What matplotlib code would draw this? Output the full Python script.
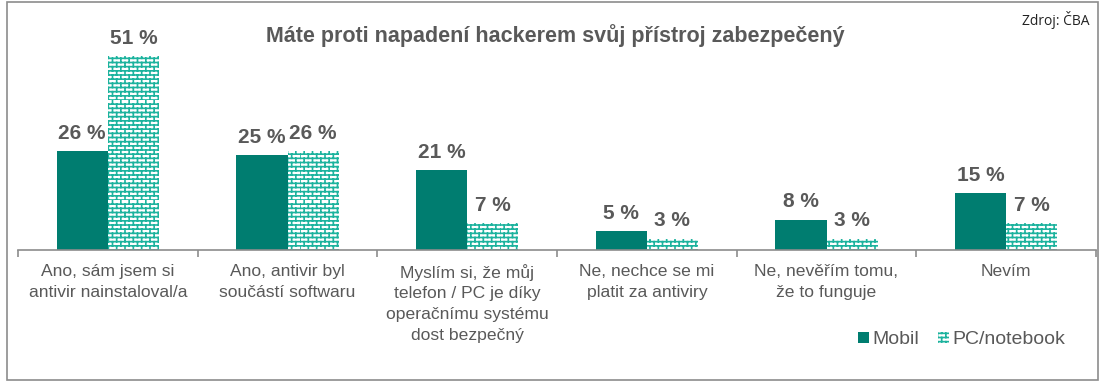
import warnings
import numpy as np
import matplotlib
matplotlib.use("Agg")
from matplotlib import pyplot as plt
from matplotlib import hatch as mhatch
from matplotlib.path import Path
from matplotlib.patches import Rectangle, Patch

warnings.filterwarnings("ignore")

# data
categories = [
    "Ano, sám jsem si\nantivir nainstaloval/a",
    "Ano, antivir byl\nsoučástí softwaru",
    "Myslím si, že můj\ntelefon / PC je díky\noperačnímu systému\ndost bezpečný",
    "Ne, nechce se mi\nplatit za antiviry",
    "Ne, nevěřím tomu,\nže to funguje",
    "Nevím",
]
mobil = [26, 25, 21, 5, 8, 15]
pc = [51, 26, 7, 3, 3, 7]
series_names = ["Mobil", "PC/notebook"]
title = "Máte proti napadení hackerem svůj přístroj zabezpečený"
source = "Zdroj: ČBA"


# cihlovy srafovaci vzor ('b')
class BrickHatch(mhatch.HatchPatternBase):
    def __init__(self, hatch, density):
        self.rows = 24 if "b" in hatch else 0
        self.cols = 12
        self.num_vertices = self.rows * 2 + self.rows * self.cols * 2

    def set_vertices_and_codes(self, vertices, codes):
        h = 1.0 / self.rows
        w = 1.0 / self.cols
        i = 0
        for r in range(self.rows):
            y = r * h
            vertices[i] = (0.0, y)
            vertices[i + 1] = (1.0, y)
            codes[i] = Path.MOVETO
            codes[i + 1] = Path.LINETO
            i += 2
        for r in range(self.rows):
            off = 0.0 if r % 2 == 0 else w / 2
            for c in range(self.cols):
                x = c * w + off
                vertices[i] = (x, r * h)
                vertices[i + 1] = (x, (r + 1) * h)
                codes[i] = Path.MOVETO
                codes[i + 1] = Path.LINETO
                i += 2


mhatch._hatch_types.append(BrickHatch)

plt.rcParams["font.family"] = ["Liberation Sans", "DejaVu Sans"]
plt.rcParams["hatch.linewidth"] = 1.2

dark = "#007D70"
light = "#1DB39E"
gray = "#595959"

W, H = 1105, 386
fig = plt.figure(figsize=(W / 100, H / 100), dpi=100)
ax = fig.add_axes([18 / W, (H - 250) / H, (1096 - 18) / W, 214 / H])

x = np.arange(len(categories))
bw = 0.285
b1 = ax.bar(x - bw / 2, mobil, bw, color=dark, linewidth=0)
b2 = ax.bar(x + bw / 2, pc, bw, color="white", edgecolor=light, linewidth=0, hatch="b")

for bars, vals in [(b1, mobil), (b2, pc)]:
    for rect, v in zip(bars, vals):
        ax.annotate(f"{v} %", (rect.get_x() + rect.get_width() / 2, v),
                    xytext=(0, 6), textcoords="offset points",
                    ha="center", va="bottom", fontsize=15, fontweight="bold", color=gray)

ax.set_xlim(-0.5, len(categories) - 0.5)
ax.set_ylim(0, 56.3)
ax.set_yticks([])
for s in ["top", "right", "left"]:
    ax.spines[s].set_visible(False)
ax.spines["bottom"].set_color("#8C8C8C")
ax.spines["bottom"].set_linewidth(1.2)

ax.set_xticks(x)
ax.set_xticklabels(categories, fontsize=12.6, color=gray, linespacing=1.47, va="top")
ax.tick_params(axis="x", which="major", length=0, pad=10)
ax.set_xticks(np.arange(-0.5, len(categories)), minor=True)
ax.tick_params(axis="x", which="minor", length=5, color="#8C8C8C", width=1.2)

fig.text(555 / W, 1 - 36 / H, title, ha="center", va="center",
         fontsize=15.5, fontweight="bold", color=gray)
fig.text(1090 / W, 1 - 20 / H, source, ha="right", va="center",
         fontsize=10, color="#222222", family=["Open Sans", "DejaVu Sans"])

handles = [Patch(facecolor=dark, linewidth=0),
           Patch(facecolor="white", edgecolor=light, linewidth=0, hatch="b")]
fig.legend(handles, series_names, loc="center right", bbox_to_anchor=(1083 / W, 1 - 340 / H),
           ncol=2, frameon=False, fontsize=14, handlelength=0.55, handleheight=0.55,
           handletextpad=0.2, columnspacing=0.95, labelcolor=gray)

fig.patches.append(Rectangle((7 / W, 1 - 380 / H), (1098 - 7) / W, (379 - 1) / H,
                             transform=fig.transFigure, fill=False,
                             edgecolor="#8C8C8C", linewidth=1.2))

fig.savefig("out.png", dpi=100)
